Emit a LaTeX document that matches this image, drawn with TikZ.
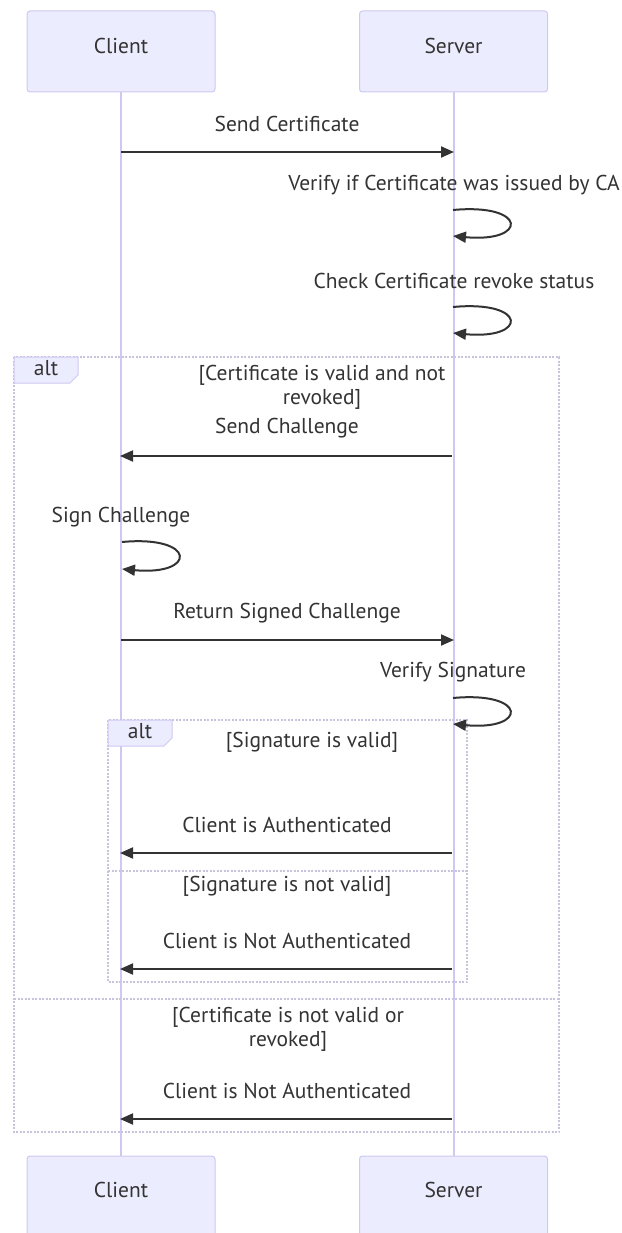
\documentclass[tikz,border=0pt]{standalone}
\usepackage{fontspec}
\setmainfont{PT Sans}
\usetikzlibrary{arrows.meta}
\definecolor{actfill}{HTML}{ECECFF}
\definecolor{actdraw}{HTML}{CFC8F0}
\definecolor{lifec}{HTML}{CFC8F0}
\definecolor{framec}{HTML}{C8C4DC}
\definecolor{txt}{HTML}{333333}
\tikzset{
  actor/.style={draw=actdraw, fill=actfill, line width=1pt, rounded corners=3pt,
    minimum width=188pt, minimum height=81pt, inner sep=0pt, text=txt},
  lifeline/.style={draw=lifec, line width=2pt},
  msg/.style={draw=txt, line width=2pt, -{Triangle[length=13pt,width=11pt]}},
  lbl/.style={text=txt, font=\fontsize{21.5}{24}\selectfont, inner sep=0pt, align=center},
  frame/.style={draw=framec, line width=2pt, dash pattern=on 2pt off 1.5pt},
  altlabel/.style={draw=actdraw, fill=actfill, line width=1pt},
}
\begin{document}
\begin{tikzpicture}[x=1pt,y=-1pt]
\useasboundingbox (0,0) rectangle (621,1233);
% actors
\node[actor] (cTop) at (121,51.5) {};
\node[lbl] at (121,46) {Client};
\node[actor] (sTop) at (453.5,51.5) {};
\node[lbl] at (453.5,46) {Server};
\node[actor] (cBot) at (121,1196.5) {};
\node[lbl] at (121,1190) {Client};
\node[actor] (sBot) at (453.5,1196.5) {};
\node[lbl] at (453.5,1190) {Server};
% lifelines
\draw[lifeline] (cTop.south) -- (cBot.north);
\draw[lifeline] (sTop.south) -- (sBot.north);

% outer alt frame
\draw[frame] (14,357) rectangle (559,1132);
\draw[frame] (14,999) -- (559,999);
\draw[altlabel] (14,357) -- (78,357) -- (78,375) -- (70,383) -- (14,383) -- cycle;
\node[lbl] at (46,368) {alt};
\node[lbl] at (322,387) {[Certificate is valid and not\\revoked]};
\node[lbl] at (288,1029) {[Certificate is not valid or\\revoked]};

% inner alt frame
\draw[frame] (108,720) rectangle (467,982);
\draw[frame] (108,871) -- (467,871);
\draw[altlabel] (108,720) -- (172,720) -- (172,738) -- (164,746) -- (108,746) -- cycle;
\node[lbl] at (140,731) {alt};
\node[lbl] at (312,742) {[Signature is valid]};
\node[lbl] at (287,886) {[Signature is not valid]};

% messages
\coordinate (c1) at (121,152); \coordinate (s1) at (454,152);
\node[lbl] at (287,124) {Send Certificate};
\draw[msg] (c1) -- (s1);

\node[lbl] at (454,185) {Verify if Certificate was issued by CA};
\coordinate (v1a) at (453,210); \coordinate (v1b) at (453,236);
\draw[msg] (v1a) .. controls (528,203) and (528,243) .. (v1b);

\node[lbl] at (454,281) {Check Certificate revoke status};
\coordinate (v2a) at (453,307); \coordinate (v2b) at (453,333);
\draw[msg] (v2a) .. controls (528,300) and (528,340) .. (v2b);

\coordinate (s3) at (452,456); \coordinate (c3) at (120,456);
\node[lbl] at (287,428) {Send Challenge};
\draw[msg] (s3) -- (c3);

\node[lbl] at (121,517) {Sign Challenge};
\coordinate (g1a) at (122,542); \coordinate (g1b) at (122,569);
\draw[msg] (g1a) .. controls (197,535) and (197,576) .. (g1b);

\coordinate (c4) at (121,640); \coordinate (s4) at (454,640);
\node[lbl] at (287,613) {Return Signed Challenge};
\draw[msg] (c4) -- (s4);

\node[lbl] at (453,672) {Verify Signature};
\coordinate (v3a) at (453,698); \coordinate (v3b) at (453,724);
\draw[msg] (v3a) .. controls (528,691) and (528,731) .. (v3b);

\coordinate (s5) at (452,853); \coordinate (c5) at (120,853);
\node[lbl] at (287,825) {Client is Authenticated};
\draw[msg] (s5) -- (c5);

\coordinate (s6) at (452,969); \coordinate (c6) at (120,969);
\node[lbl] at (287,941) {Client is Not Authenticated};
\draw[msg] (s6) -- (c6);

\coordinate (s7) at (452,1119); \coordinate (c7) at (120,1119);
\node[lbl] at (287,1091) {Client is Not Authenticated};
\draw[msg] (s7) -- (c7);
\end{tikzpicture}
\end{document}
